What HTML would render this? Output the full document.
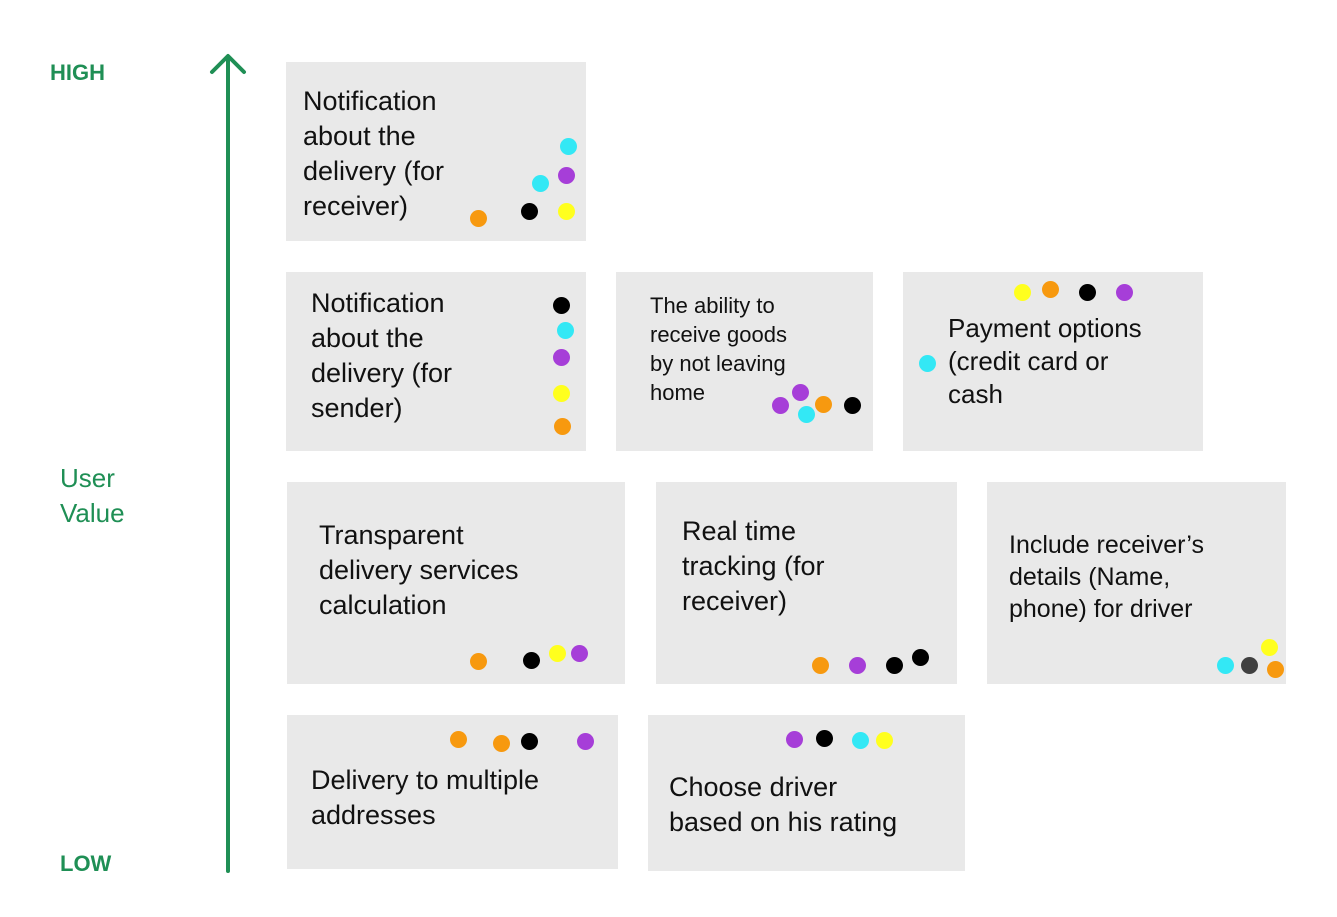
<!DOCTYPE html>
<html><head><meta charset="utf-8"><style>
body{margin:0;width:1337px;height:917px;background:#fff;position:relative;overflow:hidden;font-family:"Liberation Sans",sans-serif;}
.b{position:absolute;background:#e9e9e9;}
.t{position:absolute;color:#111;white-space:nowrap;font-size:27px;line-height:35px;}
.d{position:absolute;width:17px;height:17px;border-radius:50%;margin:-8px 0 0 -8px;}
.o{background:#f7990f}.k{background:#000}.c{background:#33e8f5}.p{background:#a63ed8}.y{background:#ffff1e}.g{background:#404040}
.g1{position:absolute;color:#1f8f55;}
</style></head><body>
<svg style="position:absolute;left:0;top:0" width="1337" height="917">
<line x1="228" y1="57" x2="228" y2="871" stroke="#1f8f55" stroke-width="4" stroke-linecap="round"/>
<polyline points="212,72 228,56 244,72" fill="none" stroke="#1f8f55" stroke-width="4" stroke-linecap="round" stroke-linejoin="round"/>
</svg>
<div class="g1" style="left:50px;top:60px;font-size:22px;font-weight:bold;">HIGH</div>
<div class="g1" style="left:60px;top:461px;font-size:26px;line-height:35px;">User<br>Value</div>
<div class="g1" style="left:60px;top:851px;font-size:22px;font-weight:bold;">LOW</div>

<div class="b" style="left:286px;top:62px;width:300px;height:179px"></div>
<div class="t" style="left:303px;top:84px">Notification<br>about the<br>delivery (for<br>receiver)</div>
<div class="d c" style="left:568px;top:146px"></div><div class="d p" style="left:566px;top:175px"></div>
<div class="d c" style="left:540px;top:183px"></div><div class="d k" style="left:529px;top:211px"></div>
<div class="d y" style="left:566px;top:211px"></div><div class="d o" style="left:478px;top:218px"></div>

<div class="b" style="left:286px;top:272px;width:300px;height:179px"></div>
<div class="t" style="left:311px;top:286px">Notification<br>about the<br>delivery (for<br>sender)</div>
<div class="d k" style="left:561px;top:305px"></div><div class="d c" style="left:565px;top:330px"></div>
<div class="d p" style="left:561px;top:357px"></div><div class="d y" style="left:561px;top:393px"></div>
<div class="d o" style="left:562px;top:426px"></div>

<div class="b" style="left:616px;top:272px;width:257px;height:179px"></div>
<div class="t" style="left:650px;top:291px;font-size:22px;line-height:29px">The ability to<br>receive goods<br>by not leaving<br>home</div>
<div class="d p" style="left:780px;top:405px"></div><div class="d p" style="left:800px;top:392px"></div>
<div class="d c" style="left:806px;top:414px"></div><div class="d o" style="left:823px;top:404px"></div>
<div class="d k" style="left:852px;top:405px"></div>

<div class="b" style="left:903px;top:272px;width:300px;height:179px"></div>
<div class="t" style="left:948px;top:312px;font-size:26px;line-height:33px">Payment options<br>(credit card or<br>cash</div>
<div class="d y" style="left:1022px;top:292px"></div><div class="d o" style="left:1050px;top:289px"></div>
<div class="d k" style="left:1087px;top:292px"></div><div class="d p" style="left:1124px;top:292px"></div>
<div class="d c" style="left:927px;top:363px"></div>

<div class="b" style="left:287px;top:482px;width:338px;height:202px"></div>
<div class="t" style="left:319px;top:518px">Transparent<br>delivery services<br>calculation</div>
<div class="d o" style="left:478px;top:661px"></div><div class="d k" style="left:531px;top:660px"></div>
<div class="d y" style="left:557px;top:653px"></div><div class="d p" style="left:579px;top:653px"></div>

<div class="b" style="left:656px;top:482px;width:301px;height:202px"></div>
<div class="t" style="left:682px;top:514px">Real time<br>tracking (for<br>receiver)</div>
<div class="d o" style="left:820px;top:665px"></div><div class="d p" style="left:857px;top:665px"></div>
<div class="d k" style="left:894px;top:665px"></div><div class="d k" style="left:920px;top:657px"></div>

<div class="b" style="left:987px;top:482px;width:299px;height:202px"></div>
<div class="t" style="left:1009px;top:529px;font-size:25px;line-height:32px">Include receiver’s<br>details (Name,<br>phone) for driver</div>
<div class="d y" style="left:1269px;top:647px"></div><div class="d c" style="left:1225px;top:665px"></div>
<div class="d g" style="left:1249px;top:665px"></div><div class="d o" style="left:1275px;top:669px"></div>

<div class="b" style="left:287px;top:715px;width:331px;height:154px"></div>
<div class="t" style="left:311px;top:763px">Delivery to multiple<br>addresses</div>
<div class="d o" style="left:458px;top:739px"></div><div class="d o" style="left:501px;top:743px"></div>
<div class="d k" style="left:529px;top:741px"></div><div class="d p" style="left:585px;top:741px"></div>

<div class="b" style="left:648px;top:715px;width:317px;height:156px"></div>
<div class="t" style="left:669px;top:770px">Choose driver<br>based on his rating</div>
<div class="d p" style="left:794px;top:739px"></div><div class="d k" style="left:824px;top:738px"></div>
<div class="d c" style="left:860px;top:740px"></div><div class="d y" style="left:884px;top:740px"></div>
</body></html>
